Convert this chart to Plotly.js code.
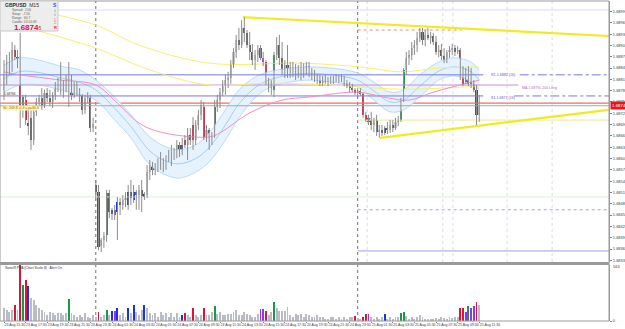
<!DOCTYPE html>
<html><head><meta charset="utf-8">
<script src="https://cdn.plot.ly/plotly-3.0.1.min.js"></script>
<style>html,body{margin:0;padding:0;background:#fff;overflow:hidden}#chart{width:625px;height:329px}</style>
</head><body><div id="chart"></div>
<script>
// ---------- DATA (GBPUSD M15) ----------
const openP = [1.68782,1.68822,1.68856,1.68840,1.68888,1.68869,1.68848,1.68737,1.68755,1.68686,
1.68708,1.68649,1.68724,1.68750,1.68761,1.68742,1.68774,1.68761,1.68750,1.68769,
1.68792,1.68803,1.68782,1.68795,1.68798,1.68816,1.68769,1.68792,1.68776,1.68766,
1.68729,1.68761,1.68766,1.68681,1.68530,1.68511,1.68368,1.68384,1.68397,1.68509,
1.68453,1.68464,1.68458,1.68485,1.68477,1.68490,1.68477,1.68511,1.68490,1.68511,
1.68503,1.68517,1.68498,1.68503,1.68564,1.68583,1.68570,1.68580,1.68575,1.68596,
1.68580,1.68601,1.68596,1.68623,1.68609,1.68636,1.68617,1.68649,1.68636,1.68662,
1.68689,1.68649,1.68689,1.68716,1.68737,1.68657,1.68676,1.68649,1.68668,1.68737,
1.68755,1.68776,1.68795,1.68808,1.68814,1.68848,1.68883,1.68914,1.68901,1.68946,
1.68933,1.68901,1.68883,1.68861,1.68875,1.68893,1.68867,1.68856,1.68803,1.68787,
1.68782,1.68875,1.68901,1.68867,1.68835,1.68848,1.68827,1.68840,1.68830,1.68835,
1.68822,1.68840,1.68830,1.68845,1.68824,1.68819,1.68811,1.68814,1.68800,1.68811,
1.68803,1.68808,1.68803,1.68814,1.68808,1.68816,1.68808,1.68798,1.68792,1.68787,
1.68782,1.68774,1.68779,1.68771,1.68716,1.68708,1.68702,1.68689,1.68702,1.68670,
1.68676,1.68668,1.68681,1.68676,1.68689,1.68681,1.68697,1.68702,1.68755,1.68835,
1.68867,1.68875,1.68893,1.68901,1.68920,1.68936,1.68914,1.68928,1.68920,1.68925,
1.68909,1.68883,1.68888,1.68872,1.68861,1.68883,1.68888,1.68893,1.68883,1.68888,
1.68816,1.68814,1.68798,1.68814,1.68798,1.68782,1.68716];
const highP = [1.68861,1.68875,1.68883,1.68909,1.68901,1.68888,1.68933,1.68769,1.68769,1.68729,
1.68729,1.68734,1.68761,1.68769,1.68787,1.68782,1.68787,1.68782,1.68776,1.68803,
1.68814,1.68856,1.68808,1.68822,1.68856,1.68822,1.68803,1.68803,1.68787,1.68771,
1.68769,1.68776,1.68769,1.68708,1.68543,1.68530,1.68389,1.68405,1.68517,1.68517,
1.68469,1.68477,1.68498,1.68495,1.68503,1.68511,1.68530,1.68543,1.68530,1.68517,
1.68530,1.68543,1.68511,1.68583,1.68596,1.68591,1.68588,1.68601,1.68617,1.68601,
1.68609,1.68623,1.68636,1.68628,1.68649,1.68644,1.68655,1.68662,1.68681,1.68681,
1.68710,1.68702,1.68729,1.68755,1.68750,1.68689,1.68681,1.68670,1.68755,1.68769,
1.68787,1.68808,1.68822,1.68830,1.68861,1.68893,1.68928,1.68946,1.68967,1.68975,
1.68941,1.68936,1.68904,1.68888,1.68901,1.68901,1.68883,1.68861,1.68814,1.68808,
1.68883,1.68922,1.68928,1.68909,1.68861,1.68901,1.68856,1.68856,1.68851,1.68848,
1.68856,1.68853,1.68856,1.68856,1.68840,1.68835,1.68824,1.68822,1.68819,1.68822,
1.68816,1.68819,1.68819,1.68824,1.68822,1.68824,1.68819,1.68808,1.68803,1.68798,
1.68787,1.68787,1.68787,1.68776,1.68724,1.68716,1.68724,1.68708,1.68716,1.68689,
1.68689,1.68686,1.68697,1.68702,1.68702,1.68708,1.68713,1.68761,1.68840,1.68883,
1.68888,1.68909,1.68914,1.68936,1.68946,1.68946,1.68941,1.68946,1.68936,1.68933,
1.68925,1.68901,1.68904,1.68893,1.68888,1.68898,1.68904,1.68901,1.68898,1.68893,
1.68845,1.68840,1.68845,1.68840,1.68808,1.68795,1.68769];
const lowP = [1.68755,1.68795,1.68822,1.68830,1.68861,1.68840,1.68681,1.68708,1.68689,1.68662,
1.68623,1.68636,1.68713,1.68739,1.68729,1.68734,1.68750,1.68739,1.68734,1.68755,
1.68776,1.68769,1.68761,1.68776,1.68737,1.68755,1.68761,1.68766,1.68750,1.68716,
1.68718,1.68747,1.68670,1.68670,1.68490,1.68357,1.68352,1.68363,1.68379,1.68442,
1.68437,1.68437,1.68384,1.68450,1.68464,1.68471,1.68464,1.68477,1.68482,1.68464,
1.68464,1.68458,1.68490,1.68495,1.68543,1.68556,1.68556,1.68564,1.68570,1.68564,
1.68570,1.68591,1.68580,1.68596,1.68601,1.68604,1.68609,1.68628,1.68596,1.68636,
1.68623,1.68636,1.68676,1.68702,1.68649,1.68644,1.68623,1.68636,1.68655,1.68724,
1.68734,1.68766,1.68769,1.68787,1.68798,1.68840,1.68867,1.68888,1.68893,1.68909,
1.68893,1.68861,1.68848,1.68835,1.68856,1.68861,1.68845,1.68795,1.68776,1.68769,
1.68763,1.68861,1.68848,1.68822,1.68814,1.68814,1.68814,1.68816,1.68808,1.68814,
1.68808,1.68814,1.68822,1.68816,1.68808,1.68803,1.68798,1.68792,1.68792,1.68798,
1.68792,1.68798,1.68798,1.68803,1.68800,1.68803,1.68792,1.68787,1.68776,1.68776,
1.68769,1.68763,1.68766,1.68708,1.68697,1.68689,1.68676,1.68670,1.68660,1.68655,
1.68660,1.68662,1.68665,1.68668,1.68670,1.68676,1.68686,1.68697,1.68750,1.68822,
1.68848,1.68861,1.68875,1.68883,1.68909,1.68901,1.68898,1.68914,1.68904,1.68901,
1.68875,1.68869,1.68861,1.68853,1.68853,1.68867,1.68875,1.68872,1.68877,1.68808,
1.68792,1.68798,1.68792,1.68787,1.68776,1.68689,1.68697];
const closeP = [1.68822,1.68856,1.68840,1.68888,1.68869,1.68856,1.68737,1.68763,1.68702,1.68694,
1.68649,1.68724,1.68750,1.68761,1.68742,1.68774,1.68761,1.68750,1.68769,1.68792,
1.68803,1.68782,1.68795,1.68808,1.68816,1.68769,1.68792,1.68776,1.68766,1.68729,
1.68761,1.68766,1.68681,1.68692,1.68511,1.68365,1.68384,1.68395,1.68509,1.68458,
1.68464,1.68450,1.68485,1.68477,1.68490,1.68495,1.68511,1.68495,1.68511,1.68503,
1.68517,1.68501,1.68506,1.68564,1.68583,1.68570,1.68580,1.68575,1.68596,1.68580,
1.68601,1.68596,1.68623,1.68609,1.68636,1.68617,1.68636,1.68636,1.68662,1.68649,
1.68649,1.68689,1.68716,1.68742,1.68657,1.68676,1.68649,1.68662,1.68737,1.68755,
1.68776,1.68795,1.68808,1.68814,1.68848,1.68883,1.68914,1.68901,1.68946,1.68933,
1.68901,1.68883,1.68861,1.68875,1.68888,1.68867,1.68856,1.68803,1.68787,1.68795,
1.68875,1.68901,1.68867,1.68835,1.68848,1.68827,1.68840,1.68830,1.68835,1.68822,
1.68840,1.68830,1.68845,1.68824,1.68819,1.68811,1.68814,1.68800,1.68811,1.68803,
1.68808,1.68803,1.68814,1.68808,1.68816,1.68808,1.68798,1.68792,1.68787,1.68782,
1.68774,1.68779,1.68771,1.68716,1.68702,1.68697,1.68689,1.68702,1.68670,1.68676,
1.68668,1.68681,1.68676,1.68689,1.68681,1.68697,1.68702,1.68755,1.68835,1.68867,
1.68875,1.68893,1.68901,1.68920,1.68936,1.68914,1.68928,1.68920,1.68925,1.68909,
1.68883,1.68888,1.68872,1.68861,1.68883,1.68888,1.68893,1.68883,1.68888,1.68816,
1.68798,1.68803,1.68814,1.68798,1.68782,1.68716,1.68740];
const volume = [130,110,90,110,160,110,560,360,410,350,
230,210,160,130,110,90,60,90,80,60,
80,80,60,80,220,80,60,40,60,40,
80,40,30,60,40,90,40,60,110,60,
100,100,130,60,80,40,130,80,160,90,
60,110,160,130,80,60,80,40,90,60,
80,40,80,40,80,40,60,80,60,40,
130,60,40,60,130,60,60,90,150,70,
90,60,60,70,70,90,110,60,60,90,
70,60,40,40,70,120,120,100,60,90,
190,130,100,100,100,140,60,40,70,60,
70,40,70,60,40,40,60,40,40,20,
20,40,40,20,40,20,40,20,40,40,
50,30,20,40,70,70,40,20,40,20,
40,70,20,40,20,40,40,80,90,50,
20,40,20,40,60,40,20,20,20,20,
30,20,40,30,20,40,30,40,40,130,
130,90,150,130,150,190,160];
// PVA class per bar: n normal, r climax bear, g climax bull, b rising bull, p rising bear
const pvaClass = ("nnnnrnrgrb"+"nnnnnnnnnn"+"nnnngnnnnn"+"nnnnnrnngn"+"bpbnnnbnbn"+
"nnbnnnnnnn"+"nnnnnnbrnn"+"rnnnrnnngn"+"nnnnnnnnnn"+"nnnnnpprnn"+"gnnnnnnnnn"+
"nnnnnnnnnn"+"nnnnnnnnnn"+"rnnrrpnnnn"+"nbnnnnnggn"+"nnnnnnnnnn"+"nnnnnnnnnr"+"rpgpprn").split('');

const timeLabels = ["23 Aug 15:30","23 Aug 17:30","23 Aug 19:30","23 Aug 21:30","23 Aug 23:30",
"24 Aug 01:30","24 Aug 03:30","24 Aug 05:30","24 Aug 07:30","24 Aug 09:30","24 Aug 11:30",
"24 Aug 13:30","24 Aug 15:30","24 Aug 17:30","24 Aug 19:30","24 Aug 21:30","24 Aug 23:30",
"25 Aug 01:30","25 Aug 03:30","25 Aug 05:30","25 Aug 07:30","25 Aug 09:30","25 Aug 11:30"];
const priceTicks = [1.6833,1.6836,1.6839,1.6842,1.6845,1.6848,1.6851,1.6854,1.6857,1.6860,1.6863,
1.6866,1.6869,1.6872,1.6875,1.6878,1.6881,1.6884,1.6887,1.6890,1.6893,1.6896,1.6899];
const lastPrice = 1.6874;
const volMax = 563;

// moving averages (bar index, price)
const maSlowIdx = [13,34,50,76,110,132,147,161,176];
const maSlow = [1.68991,1.68954,1.68901,1.68853,1.68853,1.68843,1.68830,1.68840,1.68843];
const maMidIdx = [13,34,54,76,98,121,147,176];
const maMid = [1.68938,1.68893,1.68835,1.68795,1.68800,1.68795,1.68784,1.68792];
const maPinkIdx = [0,6,21,34,42,50,58,76,80,91,103,113,131,142,150,159,176];
const maPink = [1.68830,1.68822,1.68808,1.68795,1.68747,1.68694,1.68670,1.68657,1.68668,1.68721,1.68755,1.68763,1.68776,1.68761,1.68755,1.68776,1.68808];
const bandIdx = [0,6,13,21,28,34,41,47,54,60,65,71,76,82,87,93,98,106,113,121,131,137,143,148,154,161,167,173,176];
const bandUpper = [1.68848,1.68867,1.68861,1.68845,1.68835,1.68808,1.68763,1.68716,1.68657,1.68631,1.68623,1.68636,1.68668,1.68729,1.68782,1.68816,1.68830,1.68840,1.68843,1.68840,1.68827,1.68803,1.68776,1.68782,1.68822,1.68856,1.68867,1.68856,1.68835];
const bandLower = [1.68776,1.68795,1.68795,1.68782,1.68769,1.68755,1.68702,1.68655,1.68583,1.68556,1.68548,1.68564,1.68591,1.68649,1.68708,1.68761,1.68787,1.68803,1.68808,1.68803,1.68790,1.68755,1.68724,1.68729,1.68763,1.68808,1.68819,1.68803,1.68782];
const bandMid = [1.68812,1.68831,1.68828,1.68814,1.68802,1.68782,1.68733,1.68685,1.68620,1.68593,1.68586,1.68600,1.68629,1.68689,1.68745,1.68788,1.68808,1.68822,1.68826,1.68822,1.68808,1.68779,1.68750,1.68755,1.68792,1.68832,1.68843,1.68830,1.68808];

// drawn objects
const trendTopIdx = [88.5, 224], trendTop = [1.68975, 1.68925];
const trendBotIdx = [139.3, 224], trendBot = [1.68655, 1.68729];
const daySepIdx = [34, 131];
const timeZoneIdx = [134.5, 162.5, 166.3, 186.3, 203];
const lvlTop = 1.68994, lvlR1 = 1.68822, lvlMA = 1.68795, lvlS1 = 1.68766;
const lvlRed = 1.68747, lvlBid = 1.68740, lvlKhaki = 1.68702, lvlSalmon = 1.68941;
const lvlGreen = 1.68498, lvlBlueDot = 1.68464, lvlLav = 1.68355;

// ---------- BUILD ----------
const X0 = -1.48, X1 = 224.07;
const N = closeP.length;
const idx = Array.from({length:N},(_,i)=>i);
const FONT = 'Liberation Sans, DejaVu Sans, sans-serif';
const cls = {r:'#dc143c', g:'#169a48', b:'#1a35e0', p:'#9b30f5'};
const traces = [];
function hline(y, x0, x1, color, width, dash){
  traces.push({type:'scatter',mode:'lines',x:[x0,x1],y:[y,y],line:{color:color,width:width,dash:dash||'solid'},hoverinfo:'skip',showlegend:false,xaxis:'x',yaxis:'y'});
}
hline(lvlRed, X0, X1, '#f07060', 1.2);
traces.push({type:'scatter',mode:'lines',x:bandIdx,y:bandLower,line:{color:'#b9dcf7',width:1,shape:'spline'},hoverinfo:'skip',showlegend:false});
traces.push({type:'scatter',mode:'lines',x:bandIdx,y:bandUpper,fill:'tonexty',fillcolor:'#e6f2fd',line:{color:'#b9dcf7',width:1,shape:'spline'},hoverinfo:'skip',showlegend:false});
traces.push({type:'scatter',mode:'lines',x:bandIdx,y:bandMid,line:{color:'#90c6f0',width:0.8,shape:'spline'},hoverinfo:'skip',showlegend:false});
hline(lvlTop, X0, X1, '#d8d8f4', 1);
hline(lvlR1, X0, 177.5, '#7878e6', 1);
hline(lvlR1, 191, X1, '#7878e6', 1, 'dashdot');
hline(lvlMA, X0, 190.5, '#c890d8', 1);
hline(lvlS1, X0, 177.5, '#7878e6', 1);
hline(lvlS1, 189, X1, '#7878e6', 1, 'dashdot');
hline(lvlBid, X0, X1, '#a8a8a8', 1);
hline(lvlKhaki, daySepIdx[1], X1, '#eeeeb0', 1.2);
hline(lvlSalmon, daySepIdx[1], 169.5, '#f08a70', 1, 'dot');
hline(lvlGreen, X0, X1, '#d6f2d6', 1);
hline(lvlBlueDot, daySepIdx[1], X1, '#a0a0ec', 1, 'dot');
hline(lvlLav, daySepIdx[1], X1, '#b0b0f2', 1.2);
traces.push({type:'scatter',mode:'lines',x:maSlowIdx,y:maSlow,line:{color:'#f6f070',width:1,shape:'spline'},hoverinfo:'skip',showlegend:false});
traces.push({type:'scatter',mode:'lines',x:maMidIdx,y:maMid,line:{color:'#f6f070',width:1,shape:'spline'},hoverinfo:'skip',showlegend:false});
traces.push({type:'scatter',mode:'lines',x:maPinkIdx,y:maPink,line:{color:'#f090c8',width:1,shape:'spline'},hoverinfo:'skip',showlegend:false});
traces.push({type:'scatter',mode:'lines',x:trendTopIdx,y:trendTop,line:{color:'#f2ea20',width:2.2},hoverinfo:'skip',showlegend:false});
traces.push({type:'scatter',mode:'lines',x:trendBotIdx,y:trendBot,line:{color:'#f2ea20',width:2.2},hoverinfo:'skip',showlegend:false});
const wx=[],wy=[];
idx.forEach(i=>{wx.push(i,i,null);wy.push(lowP[i],highP[i],null);});
traces.push({type:'scatter',mode:'lines',x:wx,y:wy,line:{color:'#8c8c8c',width:1},hoverinfo:'skip',showlegend:false});
function bodyGroup(filter,color){
  const ii = idx.filter(filter);
  traces.push({type:'bar',x:ii,base:ii.map(i=>Math.min(openP[i],closeP[i])),
    y:ii.map(i=>Math.max(Math.abs(closeP[i]-openP[i]),0.00002)),width:0.78,
    marker:{color:color,line:{width:0}},hoverinfo:'skip',showlegend:false,xaxis:'x',yaxis:'y'});
}
bodyGroup(i=>pvaClass[i]==='n'&&closeP[i]>=openP[i],'#c4c4c4');
bodyGroup(i=>pvaClass[i]==='n'&&closeP[i]<openP[i],'#555555');
Object.keys(cls).forEach(k=>bodyGroup(i=>pvaClass[i]===k,cls[k]));
function volGroup(k,color){
  const ii = idx.filter(i=>pvaClass[i]===k);
  traces.push({type:'bar',x:ii,y:ii.map(i=>volume[i]),width:0.72,marker:{color:color,line:{width:0}},hoverinfo:'skip',showlegend:false,xaxis:'x',yaxis:'y2'});
}
volGroup('n','#b9bcc6');
Object.keys(cls).forEach(k=>volGroup(k,cls[k]));

// ---------- LAYOUT ----------
const px = v=>v/609, py = v=>(321-v)/320;
const shapes = [];
daySepIdx.forEach(d=>shapes.push({type:'line',xref:'x',yref:'paper',x0:d,x1:d,y0:0,y1:1,line:{color:'#707070',width:1,dash:'dot'},layer:'below'}));
timeZoneIdx.forEach(d=>shapes.push({type:'line',xref:'x',yref:'paper',x0:d,x1:d,y0:py(262),y1:1,line:{color:'#dcdcdc',width:1,dash:'dot'},layer:'below'}));
shapes.push({type:'rect',xref:'paper',yref:'paper',x0:0,x1:1,y0:py(265),y1:py(262),fillcolor:'#9a9a9a',line:{width:0}});
shapes.push({type:'rect',xref:'paper',yref:'paper',x0:0,x1:1,y0:0,y1:1,fillcolor:'rgba(0,0,0,0)',line:{color:'#9a9a9a',width:1}});
shapes.push({type:'rect',xref:'paper',yref:'paper',x0:0,x1:px(58),y0:py(31),y1:1,fillcolor:'#ededed',line:{color:'#c8c8c8',width:1}});

const ann = [];
function txt(x,y,t,size,color,opts){ann.push(Object.assign({xref:'paper',yref:'paper',x:px(x),y:py(y),text:t,showarrow:false,xanchor:'left',yanchor:'middle',font:{family:FONT,size:size,color:color}},opts||{}));}
txt(3,5,'<b>GBPUSD</b>  M15',5,'#303030');
txt(10,10,'Spread:  2.00',3.2,'#606060');
txt(10,14,'Swap:  -7.50',3.2,'#606060');
txt(10,18,'Range:  60.7',3.2,'#606060');
txt(10,22,'Candle: 03:14:08',3.2,'#606060');
txt(12,27,'<b>1.6874</b><span style="font-size:5px">5</span>',8,'#e0103a');
txt(51,5,'<b>S</b>',5,'#4a4ae0');
txt(52,11,'0',3.2,'#8080e0');
txt(52,15,'0',3.2,'#8080e0');
txt(52,20,'1',3.2,'#e05050');
txt(52,23,'C',3.2,'#e05050');
txt(52,27,'<b>R</b>',4,'#e03030');
txt(2,94,'1.68766',3.2,'#303030');
ann.push({xref:'paper',yref:'paper',x:px(2),y:py(108),text:'SL: 209.8 -0.3 = p=30.3',showarrow:false,xanchor:'left',yanchor:'middle',bgcolor:'#fcf6b8',borderpad:0,font:{family:FONT,size:3.4,color:'#a06000'}});
txt(3,268,'SonicR PVA (Chart Scale 8) : Alert On',3.4,'#303030');
ann.push({xref:'x',yref:'y',x:179.5,y:lvlR1,text:'R1-1.6882 (16)',showarrow:false,xanchor:'left',yanchor:'middle',font:{family:FONT,size:3.6,color:'#5a5ad8'}});
ann.push({xref:'x',yref:'y',x:191,y:lvlMA-0.00009,text:'MA 1.6879L 200 Long',showarrow:false,xanchor:'left',yanchor:'middle',font:{family:FONT,size:3.6,color:'#b070c0'}});
ann.push({xref:'x',yref:'y',x:179.5,y:lvlS1-0.00005,text:'S1-1.6877 (16)',showarrow:false,xanchor:'left',yanchor:'middle',font:{family:FONT,size:3.6,color:'#5a5ad8'}});
ann.push({xref:'paper',yref:'y',x:1.002,y:lastPrice,text:'1.6874',showarrow:false,xanchor:'left',yanchor:'middle',bgcolor:'#e8141e',borderpad:1,font:{family:FONT,size:4.4,color:'#ffffff'}});
ann.push({xref:'paper',yref:'paper',x:1.004,y:py(266),text:'563',showarrow:false,xanchor:'left',yanchor:'middle',font:{family:FONT,size:4,color:'#404040'}});

const layout = {
  width:625,height:329,margin:{l:0,r:16,t:1,b:8},
  paper_bgcolor:'#ffffff',plot_bgcolor:'#ffffff',
  barmode:'overlay',bargap:0,showlegend:false,
  font:{family:FONT,size:4,color:'#404040'},
  xaxis:{range:[X0,X1],anchor:'y2',showgrid:false,zeroline:false,
    tickvals:timeLabels.map((_,k)=>k*8),ticktext:timeLabels,ticks:'outside',ticklen:1,tickcolor:'#808080',
    tickangle:0,ticklabelposition:'outside right',tickfont:{size:3.5,color:'#404040'},showline:false,automargin:false},
  yaxis:{domain:[py(262),1],range:[1.683255,1.690179],side:'right',showgrid:false,zeroline:false,
    tickvals:priceTicks,ticktext:priceTicks.map(v=>v.toFixed(4)),ticks:'outside',ticklen:2,tickcolor:'#808080',
    tickfont:{size:4,color:'#404040'},showline:true,linecolor:'#9a9a9a',linewidth:1,automargin:false},
  yaxis2:{domain:[0,py(265)],range:[0,volMax],side:'right',showgrid:false,zeroline:false,
    tickvals:[0],ticktext:['0'],ticks:'outside',ticklen:2,tickcolor:'#808080',tickfont:{size:4,color:'#404040'},
    showline:true,linecolor:'#9a9a9a',linewidth:1,automargin:false},
  shapes:shapes,annotations:ann
};
Plotly.newPlot('chart',traces,layout,{displayModeBar:false,staticPlot:true});
</script></body></html>
